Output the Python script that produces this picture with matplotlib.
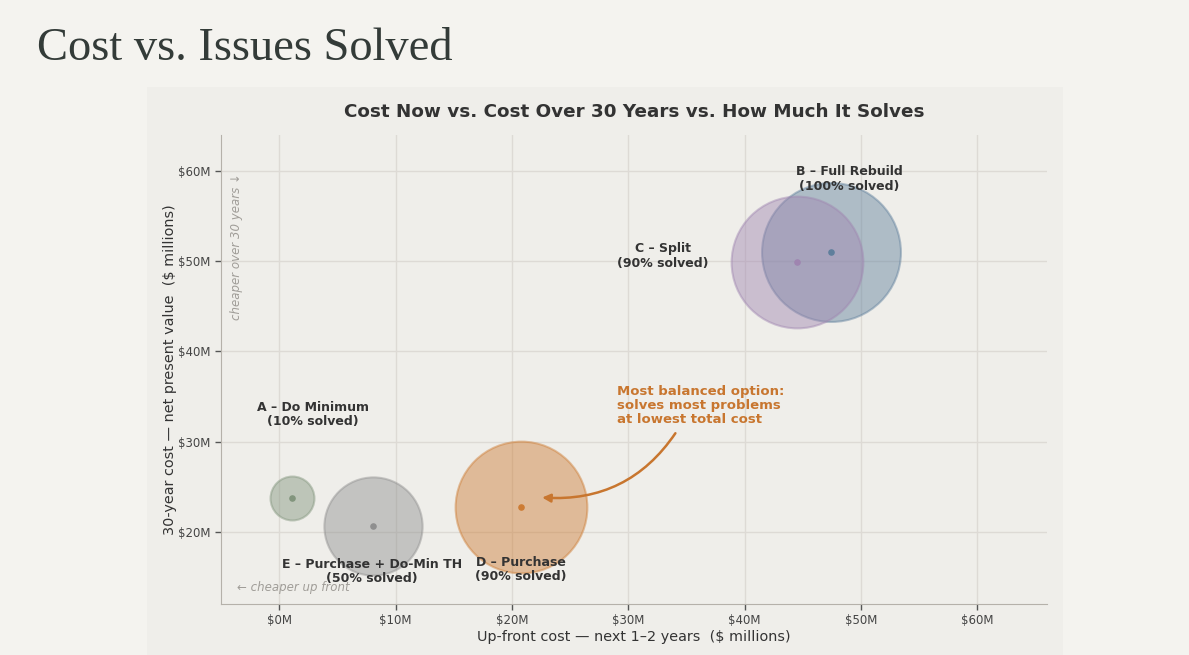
# -*- coding: utf-8 -*-
import matplotlib
matplotlib.use("Agg")
import matplotlib.pyplot as plt
from matplotlib.patches import Rectangle

# 基本样式
plt.rcParams['font.family'] = ['DejaVu Sans']
plt.rcParams['figure.dpi'] = 100

# 数据
options = ["A – Do Minimum", "B – Full Rebuild", "C – Split", "D – Purchase", "E – Purchase + Do-Min TH"]
upfront = [1.1, 47.4, 44.5, 20.8, 8.1]        # $M, next 1-2 years
npv30 = [23.7, 51.0, 49.9, 22.7, 20.7]         # $M, 30-year NPV
solved = [10, 100, 90, 90, 50]                 # % of problems solved
colors = ["#82957d", "#5f7f9c", "#9f85b0", "#cd7c34", "#8f8f8f"]
label_pos = [(2.9, 33.0), (49.0, 59.1), (33.0, 50.6), (20.8, 15.8), (8.0, 15.6)]
x_ticks = [0, 10, 20, 30, 40, 50, 60]
y_ticks = [20, 30, 40, 50, 60]

page_bg = "#f4f3ef"
panel_bg = "#efeeea"
text_dark = "#333333"
accent = "#c8762f"

fig = plt.figure(figsize=(11.89, 6.55), facecolor=page_bg)

# 图表背景面板（放在坐标轴下面）
fig.patches.append(Rectangle((0.1236, 0.0), 0.7704, 0.867, transform=fig.transFigure,
                             facecolor=panel_bg, edgecolor="none", zorder=-10))

# 大标题
fig.text(0.031, 0.926, "Cost vs. Issues Solved", family="Liberation Serif",
         fontsize=33.5, color="#333b38", ha="left", va="center")

ax = fig.add_axes([0.1859, 0.0779, 0.6947, 0.716])
ax.set_facecolor(panel_bg)

# 气泡
for i in range(len(options)):
    ax.scatter(upfront[i], npv30[i], s=solved[i] * 100, color=colors[i], alpha=0.45,
               edgecolor=colors[i], linewidth=1.5, zorder=3)
    ax.scatter(upfront[i], npv30[i], s=14, color=colors[i], zorder=4)
    ax.text(label_pos[i][0], label_pos[i][1], options[i] + "\n(" + str(solved[i]) + "% solved)",
            ha="center", va="center", fontsize=9, fontweight="bold", color=text_dark,
            linespacing=1.15, zorder=5)

# 注释
ax.annotate("Most balanced option:\nsolves most problems\nat lowest total cost",
            xy=(22.6, 23.8), xytext=(29.0, 36.3), ha="left", va="top",
            fontsize=9.5, fontweight="bold", color=accent, linespacing=1.1, zorder=6,
            arrowprops=dict(arrowstyle="-|>", color=accent, lw=1.8, mutation_scale=12,
                            connectionstyle="arc3,rad=-0.3", relpos=(0.38, 0.0),
                            shrinkA=4, shrinkB=0))

# 方向提示
ax.text(-3.6, 13.8, "← cheaper up front", fontsize=8.5, style="italic", color="#a09d98",
        ha="left", va="center", zorder=5)
ax.text(-3.7, 59.8, "cheaper over 30 years ↓", fontsize=8.5, style="italic", color="#a09d98",
        rotation=90, ha="center", va="top", zorder=5)

# 坐标轴
ax.set_xlim(-5, 66)
ax.set_ylim(12, 64)
ax.set_xticks(x_ticks)
ax.set_xticklabels(["$" + str(v) + "M" for v in x_ticks])
ax.set_yticks(y_ticks)
ax.set_yticklabels(["$" + str(v) + "M" for v in y_ticks])
ax.tick_params(labelsize=8.5, colors="#555555", length=4, width=1)
ax.tick_params(axis="both", labelcolor="#444444")
ax.grid(True, color="#dddad5", linewidth=1, zorder=0)
ax.set_axisbelow(True)
for side in ["top", "right"]:
    ax.spines[side].set_visible(False)
for side in ["left", "bottom"]:
    ax.spines[side].set_color("#b5b1aa")
ax.set_xlabel("Up-front cost — next 1–2 years  ($ millions)", fontsize=10.4, color=text_dark, labelpad=2)
ax.set_ylabel("30-year cost — net present value  ($ millions)", fontsize=10.4, color=text_dark, labelpad=1)
ax.set_title("Cost Now vs. Cost Over 30 Years vs. How Much It Solves", fontsize=13.2,
             fontweight="bold", color=text_dark, pad=13)

plt.savefig("out.png", dpi=100, facecolor=page_bg)
